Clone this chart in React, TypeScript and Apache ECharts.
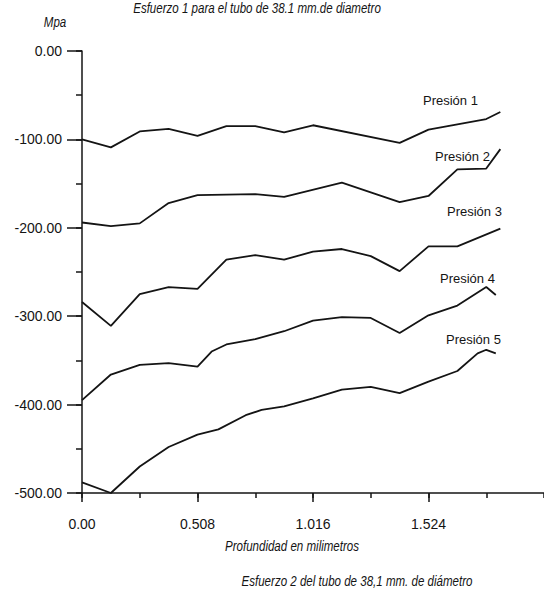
import React, { useEffect, useRef } from "react";
import * as echarts from "echarts";

// Texts
const titleTop = "Esfuerzo 1 para el tubo de 38.1 mm.de diametro";
const titleBottom = "Esfuerzo 2 del tubo de 38,1 mm. de diámetro";
const xAxisName = "Profundidad en milimetros";
const yAxisName = "Mpa";
const seriesNames = ["Presión 1", "Presión 2", "Presión 3", "Presión 4", "Presión 5"];

// Axis ranges (depth in mm, stress in MPa)
const xMin = 0;
const xMax = 2.032;
const xMajorStep = 0.508;
const xMinorStep = 0.254;
const yMin = -500;
const yMax = 0;
const yMajorStep = 100;
const yMinorStep = 50;

// Depth (mm) and stress (MPa) for each pressure curve
const depth1 = [0, 0.127, 0.254, 0.381, 0.508, 0.635, 0.762, 0.889, 1.016, 1.397, 1.524, 1.778, 1.84];
const stress1 = [-100, -109, -91, -88, -96, -85, -85, -92, -84, -104, -89, -77, -69];

const depth2 = [0, 0.127, 0.254, 0.381, 0.508, 0.762, 0.889, 1.143, 1.397, 1.524, 1.651, 1.778, 1.84];
const stress2 = [-194, -198, -195, -172, -163, -162, -165, -149, -171, -164, -134, -133, -111];

const depth3 = [0, 0.127, 0.254, 0.381, 0.508, 0.635, 0.762, 0.889, 1.016, 1.143, 1.27, 1.397, 1.524, 1.651, 1.84];
const stress3 = [-284, -311, -275, -267, -269, -236, -231, -236, -227, -224, -232, -249, -221, -221, -201];

const depth4 = [0, 0.127, 0.254, 0.381, 0.508, 0.57, 0.635, 0.762, 0.889, 1.016, 1.143, 1.27, 1.397, 1.524, 1.651, 1.778, 1.82];
const stress4 = [-395, -366, -355, -353, -357, -340, -332, -326, -317, -305, -301, -302, -319, -299, -288, -267, -276];

const depth5 = [0, 0.127, 0.254, 0.381, 0.508, 0.6, 0.72, 0.79, 0.889, 1.016, 1.143, 1.27, 1.397, 1.524, 1.651, 1.74, 1.778, 1.82];
const stress5 = [-488, -500, -470, -448, -434, -428, -412, -406, -402, -393, -383, -380, -387, -374, -362, -342, -338, -342];

const depths = [depth1, depth2, depth3, depth4, depth5];
const stresses = [stress1, stress2, stress3, stress4, stress5];

const ink = "#141414";
const font = "'Liberation Sans', Arial, sans-serif";

export default function App() {
  const ref = useRef<HTMLDivElement>(null);

  useEffect(() => {
    document.body.style.margin = "0";
    if (!ref.current) return;
    const chart = echarts.init(ref.current, undefined, { renderer: "svg" });

    const series = seriesNames.map((name, i) => ({
      name,
      type: "line" as const,
      xAxisIndex: 0,
      yAxisIndex: 0,
      data: depths[i].map((d, k) => [d, stresses[i][k]]),
      symbol: "none",
      showSymbol: false,
      clip: false,
      silent: true,
      lineStyle: { color: ink, width: 1.8 },
    }));

    // curve name labels, placed above the right end of each curve
    const curveLabels = [
      { x: 423, y: 100 },
      { x: 435, y: 156 },
      { x: 447, y: 211 },
      { x: 440, y: 278 },
      { x: 446, y: 339 },
    ].map((p, i) => ({
      type: "text",
      x: p.x,
      y: p.y,
      silent: true,
      style: {
        text: seriesNames[i],
        fill: ink,
        font: `13px ${font}`,
        align: "left",
        verticalAlign: "middle",
      },
    }));

    const italicText = (text: string, x: number, y: number) => ({
      type: "text",
      x,
      y,
      scaleX: 0.77,
      silent: true,
      style: {
        text,
        fill: ink,
        font: `italic 15px ${font}`,
        align: "center",
        verticalAlign: "middle",
      },
    });

    const tickStyle = { color: ink, width: 1.5 };

    chart.setOption({
      animation: false,
      backgroundColor: "#ffffff",
      grid: { left: 82, top: 51, right: -4, bottom: 98, containLabel: false },
      xAxis: [
        {
          type: "value",
          min: xMin,
          max: xMax,
          interval: xMajorStep,
          axisLine: { show: true, onZero: false, lineStyle: tickStyle },
          axisTick: { show: true, length: 9, lineStyle: tickStyle },
          axisLabel: {
            margin: 24,
            color: ink,
            fontSize: 14,
            fontFamily: font,
            showMaxLabel: false,
            formatter: (v: number) => (v === 0 ? "0.00" : v.toFixed(3)),
          },
          splitLine: { show: false },
        },
        {
          type: "value",
          min: xMin,
          max: xMax,
          interval: xMinorStep,
          position: "bottom",
          axisLine: { show: false, onZero: false },
          axisTick: { show: true, length: 5, lineStyle: tickStyle },
          axisLabel: { show: false },
          splitLine: { show: false },
        },
      ],
      yAxis: [
        {
          type: "value",
          min: yMin,
          max: yMax,
          interval: yMajorStep,
          axisLine: { show: true, onZero: false, lineStyle: tickStyle },
          axisTick: { show: true, length: 15, lineStyle: tickStyle },
          axisLabel: {
            margin: 20,
            color: ink,
            fontSize: 14,
            fontFamily: font,
            formatter: (v: number) => v.toFixed(2),
          },
          splitLine: { show: false },
        },
        {
          type: "value",
          min: yMin,
          max: yMax,
          interval: yMinorStep,
          position: "left",
          axisLine: { show: false, onZero: false },
          axisTick: { show: true, length: 6, lineStyle: tickStyle },
          axisLabel: { show: false },
          splitLine: { show: false },
        },
      ],
      series,
      graphic: [
        italicText(titleTop, 257, 8),
        italicText(yAxisName, 55, 22),
        italicText(xAxisName, 292, 546),
        italicText(titleBottom, 357, 581),
        ...curveLabels,
      ],
    });

    return () => chart.dispose();
  }, []);

  return <div ref={ref} style={{ width: 544, height: 591 }} />;
}
